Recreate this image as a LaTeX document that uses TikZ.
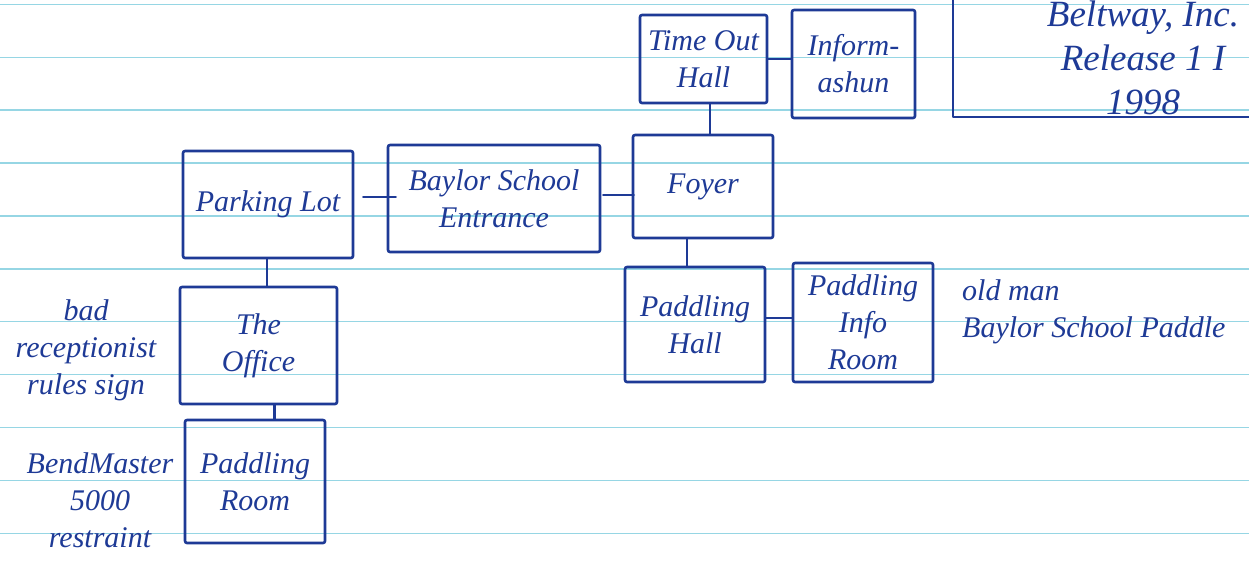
\documentclass[tikz,border=0pt]{standalone}
\usepackage{fontspec}
\setmainfont{Liberation Serif}
\definecolor{ink}{RGB}{30,58,150}
\definecolor{ruled}{RGB}{150,214,228}
\newcommand\handfont{\fontsize{30}{37}\selectfont\itshape}
\newcommand\bighand{\fontsize{37}{44}\selectfont\itshape}
\begin{document}
\begin{tikzpicture}[x=1pt,y=-1pt,
  pen/.style={draw=ink, line width=2.6pt, line cap=round, line join=round},
  room/.style={pen, rectangle, rounded corners=2pt, inner sep=0pt, align=center, text=ink, font=\handfont},
  note/.style={inner sep=0pt, text=ink, font=\handfont},
  conn/.style={pen}]
\useasboundingbox (0,0) rectangle (1249,573);
\fill[white] (0,0) rectangle (1249,573);
% ruled paper
\foreach \k in {0,...,10}{
  \draw[ruled, line width=1.4pt] (0,4.3+52.9*\k) -- (1249,4.3+52.9*\k);
}
% rooms
\node[room, minimum width=127, minimum height=88]  (too) at (703.5,59)   {Time Out\\Hall};
\node[room, minimum width=123, minimum height=108] (inf) at (853.5,64)   {Inform-\\ashun};
\node[room, minimum width=140, minimum height=103] (foy) at (703,186.5)  {Foyer};
\node[room, minimum width=212, minimum height=107] (be)  at (494,198.5)  {Baylor School\\Entrance};
\node[room, minimum width=170, minimum height=107] (pl)  at (268,204.5)  {Parking Lot};
\node[room, minimum width=157, minimum height=117] (off) at (258.5,345.5) {The\\Office};
\node[room, minimum width=140, minimum height=123] (pr)  at (255,481.5)  {Paddling\\Room};
\node[room, minimum width=140, minimum height=115] (ph)  at (695,324.5)  {Paddling\\Hall};
\node[room, minimum width=140, minimum height=119] (pir) at (863,322.5)  {Paddling\\Info\\Room};
% connectors
\draw[conn] ([shift={(9,-7.5)}]pl.east) -- ([shift={(9,-7.5)}]pl.east -| be.west);
\draw[conn] ([shift={(2,-3.5)}]be.east) -- ([shift={(2,-3.5)}]be.east -| foy.west);
\draw[conn] (too.east) -- (too.east -| inf.west);
\draw[conn] ([shift={(6.5,0)}]too.south) -- ([shift={(6.5,0)}]too.south |- foy.north);
\draw[conn] ([shift={(-16,0)}]foy.south) -- ([shift={(-16,0)}]foy.south |- ph.north);
\draw[conn] ([shift={(0,-6.5)}]ph.east) -- ([shift={(0,-6.5)}]ph.east -| pir.west);
\draw[conn] ([shift={(-1,0)}]pl.south) -- ([shift={(-1,0)}]pl.south |- off.north);
\draw[conn] ([shift={(16,0)}]off.south) -- ([shift={(16,0)}]off.south |- pr.north);
% notes
\node[note, align=center] (n1) at (86,350) {bad\\receptionist\\rules sign};
\node[note, align=center] (n2) at (100,500) {BendMaster\\5000\\restraint};
\node[note, align=left, anchor=west] (n3) at (962,312) {old man\\Baylor School Paddle};
% title block
\draw[pen] (953,-5) -- (953,117) -- (1260,117);
\node[note, font=\bighand, align=center] (ttl) at (1143,58) {Beltway, Inc.\\Release 1 I\\1998};
\end{tikzpicture}
\end{document}
